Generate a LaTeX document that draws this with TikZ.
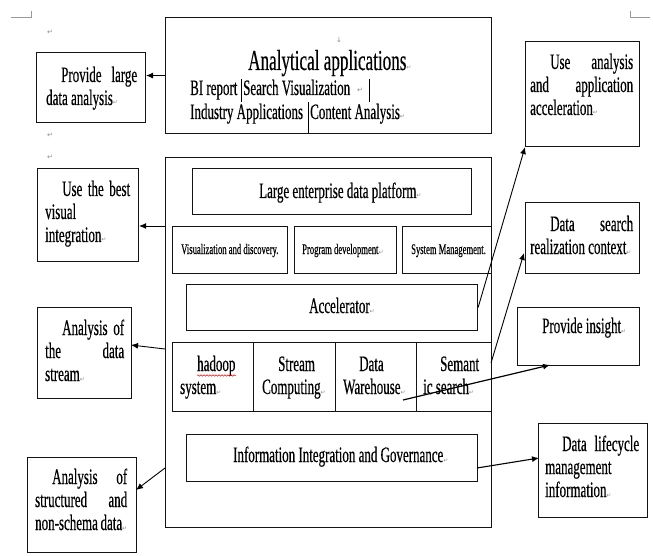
\documentclass[tikz,border=0pt]{standalone}
\usepackage{fontspec}
\setmainfont{Liberation Serif}[FakeStretch=0.59,FakeBold=0.4]
\newfontfamily\dvsfont{DejaVu Sans}
\usetikzlibrary{arrows.meta,decorations.pathmorphing}
\newcommand{\pmk}{{\dvsfont\fontsize{6}{6}\selectfont\textcolor{black!45}{↵}}}
\newcommand{\bodyfs}{\fontsize{22}{23}\selectfont\tolerance=10000\hyphenpenalty=10000\relax}
\tikzset{
  box/.style={draw=black!92, line width=1.1pt, inner sep=0pt, anchor=north west},
  arr/.style={-{Latex[length=7pt,width=6pt]}, line width=0.9pt, black},
  para/.style={inner sep=0pt, anchor=base west, align=justify, font=\bodyfs},
  lbl/.style={inner sep=0pt, anchor=base west, font=\bodyfs},
  smalltxt/.style={inner sep=0pt, anchor=base west, font=\fontsize{14.6}{16}\selectfont},
  pmark/.style={inner sep=0pt, font=\dvsfont\fontsize{7}{7}\selectfont, text=black!45},
  cropmk/.style={draw=black!40, line width=0.8pt},
  tbar/.style={draw=black, line width=0.8pt},
}
\begin{document}
\begin{tikzpicture}[x=1pt,y=-1pt]
\useasboundingbox (0,0) rectangle (653,556);
\fill[white] (0,0) rectangle (653,556);

% crop marks
\draw[cropmk] (11,17) -- (31,17) -- (31,11);
\draw[cropmk] (650,17) -- (630,17) -- (630,11);
\node[pmark] (pm1) at (50,32) {↵};
\node[pmark] (pm2) at (50,135) {↵};
\node[pmark] (pm3) at (50,157) {↵};

% top box
\node[box, minimum width=326pt, minimum height=116pt] (top) at (165,17) {};
\node[pmark] (darr) at (339,40) {↓};
\node[lbl, font=\fontsize{29}{32}\selectfont] (anat) at (248,70) {Analytical applications\pmk};
\node[lbl] (bi) at (190,95) {BI report};
\node[lbl] (sv) at (243,95) {Search Visualization};
\node[pmark] (svm) at (360,90) {↵};
\node[lbl] (ia) at (190,119) {Industry Applications};
\node[lbl] (ca) at (310,119) {Content Analysis\pmk};
\draw[tbar] (241,79) -- (241,102);
\draw[tbar] (369,79) -- (369,102);
\draw[tbar] (308,102) -- (308,133);

% big platform box
\node[box, minimum width=326pt, minimum height=370pt] (big) at (165,157) {};
\node[box, minimum width=279pt, minimum height=46pt] (ent) at (192,168) {};
\node[lbl] (entt) at (259,198) {Large enterprise data platform\pmk};

\node[box, minimum width=115pt, minimum height=47pt] (sm1) at (172,226) {};
\node[box, minimum width=102pt, minimum height=47pt] (sm2) at (294,226) {};
\node[box, minimum width=89pt, minimum height=47pt] (sm3) at (402,226) {};
\node[smalltxt] (sm1t) at (181,254) {Visualization and discovery.};
\node[smalltxt] (sm2t) at (302,254) {Program development\pmk};
\node[smalltxt] (sm3t) at (411,254) {System Management.};

\node[box, minimum width=291pt, minimum height=46pt] (acc) at (186,284) {};
\node[lbl] (acct) at (309,313) {Accelerator\pmk};

\node[box, minimum width=81pt, minimum height=69pt] (c1) at (172,342) {};
\node[box, minimum width=82pt, minimum height=69pt] (c2) at (253,342) {};
\node[box, minimum width=81pt, minimum height=69pt] (c3) at (335,342) {};
\node[box, minimum width=75pt, minimum height=69pt] (c4) at (416,342) {};
\node[lbl] (c1a) at (197,371) {hadoop};
\node[lbl] (c1b) at (180,394) {system\pmk};
\draw[red, line width=0.5pt, decorate, decoration={snake, amplitude=0.7pt, segment length=3pt}] (197,375.5) -- (236,375.5);
\node[lbl] (c2a) at (278,371) {Stream};
\node[lbl] (c2b) at (262,394) {Computing\pmk};
\node[lbl] (c3a) at (359,371) {Data};
\node[lbl] (c3b) at (343,394) {Warehouse\pmk};
\node[lbl] (c4a) at (440,371) {Semant};
\node[lbl] (c4b) at (423,394) {ic search\pmk};

\node[box, minimum width=291pt, minimum height=47pt] (info) at (186,434) {};
\node[lbl] (infot) at (233,462) {Information Integration and Governance\pmk};

% left boxes
\node[box, minimum width=109pt, minimum height=70pt] (L1) at (36,52) {};
\node[para, text width=91pt] (L1t) at (46,82) {\hspace*{15pt}Provide large\linebreak data analysis\pmk};
\node[box, minimum width=101pt, minimum height=93pt] (L2) at (37,168) {};
\node[para, text width=85pt] (L2t) at (45,196) {\hspace*{17pt}Use the best\linebreak visual\\integration\pmk};
\node[box, minimum width=94pt, minimum height=91pt] (L3) at (37,307) {};
\node[para, text width=79pt] (L3t) at (45,335) {\hspace*{17pt}Analysis of\linebreak the data\linebreak stream\pmk};
\node[box, minimum width=109pt, minimum height=95pt] (L4) at (27,457) {};
\node[para, text width=92pt] (L4t) at (35,484) {\hspace*{17pt}Analysis of\linebreak structured and\linebreak non-schema data\pmk};

% right boxes
\node[box, minimum width=114pt, minimum height=105pt] (R1) at (525,41) {};
\node[para, text width=103pt] (R1t) at (530,69) {\hspace*{20pt}Use analysis\linebreak and application\linebreak acceleration\pmk};
\node[box, minimum width=114pt, minimum height=71pt] (R2) at (525,202) {};
\node[para, text width=103pt] (R2t) at (530,231) {\hspace*{20pt}Data search\linebreak realization context\pmk};
\node[box, minimum width=122pt, minimum height=58pt] (R3) at (517,307) {};
\node[para, text width=106pt] (R3t) at (525,333) {\hspace*{17pt}Provide insight\pmk};
\node[box, minimum width=109pt, minimum height=94pt] (R4) at (538,423) {};
\node[para, text width=94pt] (R4t) at (545,451) {\hspace*{17pt}Data lifecycle\linebreak management\\information\pmk};

% connectors
\coordinate (s2) at (165,226);
\coordinate (s3) at (165,349);
\coordinate (e3) at (131,345);
\coordinate (s4) at (165,468);
\coordinate (e4) at (136,490);
\coordinate (s6) at (491,363);
\coordinate (e6) at (524,253);
\coordinate (s7) at (403,400);
\coordinate (e7) at (550,365);
\coordinate (s8) at (477,468);
\coordinate (e8) at (539,458);

\draw[arr] (top.west) -- (top.west -| L1.east);
\draw[arr] (s2) -- (s2 -| L2.east);
\draw[arr] (s3) -- (e3);
\draw[arr] (s4) -- (e4);
\draw[arr] (acc.east) -- (R1.south west);
\draw[arr] (s6) -- (e6);
\draw[arr, line width=1.2pt] (s7) -- (e7);
\draw[arr, line width=1.1pt] (s8) -- (e8);
\end{tikzpicture}
\end{document}
